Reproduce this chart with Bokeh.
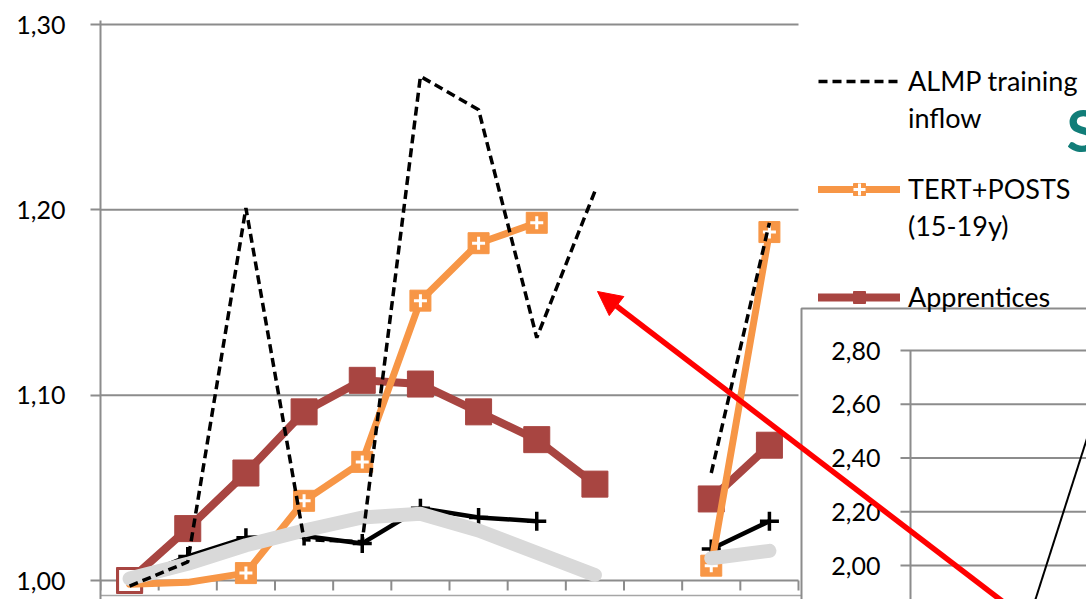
import math
from bokeh.plotting import figure
from bokeh.models import (Range1d, FixedTicker, CustomJSTickFormatter, Legend, LegendItem,
                          Arrow, NormalHead, Label)
from bokeh.embed import file_html
from bokeh.resources import INLINE
from bokeh.core.properties import value

nan = float("nan")

# ---------------- data ----------------
periods = list(range(1, 13))
almp_training_inflow = [0.997, 1.010, 1.201, 1.022, 1.021, 1.272, 1.254, 1.131, 1.210, nan, 1.058, 1.193]
tert_posts_15_19y = [0.998, 0.999, 1.004, 1.043, 1.064, 1.151, 1.182, 1.193, nan, nan, 1.008, 1.188]
apprentices = [1.000, 1.028, 1.058, 1.091, 1.108, 1.106, 1.091, 1.076, 1.052, nan, 1.044, 1.073]
black_series = [1.000, 1.013, 1.023, 1.024, 1.020, 1.039, 1.034, 1.032, nan, nan, 1.017, 1.032]
grey_series = [1.001, 1.009, 1.019, 1.027, 1.034, 1.036, 1.027, 1.015, 1.003, nan, 1.012, 1.016]
y_ticks = [1.00, 1.10, 1.20, 1.30]

inset_x = [2.2, 3.8]
inset_values = [1.70, 2.63]
inset_ticks = [2.00, 2.20, 2.40, 2.60, 2.80]

legend_rows = [("ALMP training", "almp"), ("inflow", None), (" ", None),
               ("TERT+POSTS", "tert"), ("(15-19y)", None), (" ", None),
               ("Apprentices", "appr")]

# ---------------- layout constants ----------------
W, H = 1086, 599
FRAME_L, FRAME_T = 100, 20
MAIN_RIGHT_PX = 798
Y_BASE_PX, Y_TOP_PX = 580, 24            # pixel rows of 1.00 and 1.30
PXU = (Y_BASE_PX - Y_TOP_PX) / (y_ticks[-1] - y_ticks[0])
CAT_W = (MAIN_RIGHT_PX - FRAME_L) / len(periods)

x_start = periods[0] - 0.5
x_end = x_start + (W - FRAME_L) / CAT_W
y_start = y_ticks[0] - (H - Y_BASE_PX) / PXU
y_end = y_ticks[-1] + (Y_TOP_PX - FRAME_T) / PXU

GRID = "#8C8C8C"
ORANGE = "#F79646"
BROWN = "#A84541"
LIGHT = "#D9D9D9"
FONT = "Lato"

p = figure(width=W, height=H, x_range=Range1d(x_start, x_end), y_range=Range1d(y_start, y_end),
           output_backend="svg", toolbar_location=None, x_axis_location=None,
           min_border_left=FRAME_L, min_border_right=0, min_border_top=FRAME_T, min_border_bottom=0)
p.outline_line_color = None
p.xgrid.visible = False
p.ygrid.visible = False
p.background_fill_color = "white"
p.border_fill_color = "white"

# pixel-like helper range for decorations
p.extra_x_ranges["px"] = Range1d(FRAME_L, W)
p.extra_y_ranges["px"] = Range1d(H, FRAME_T)

# inset ranges
IN_AXIS_PX = 910
IN_UX = 50.0
IN_2_PX, IN_28_PX = 565, 350
IN_PXU = (IN_2_PX - IN_28_PX) / (inset_ticks[-1] - inset_ticks[0])
p.extra_x_ranges["ix"] = Range1d((FRAME_L - IN_AXIS_PX) / IN_UX, (W - IN_AXIS_PX) / IN_UX)
p.extra_y_ranges["iy"] = Range1d(inset_ticks[0] - (H - IN_2_PX) / IN_PXU,
                                 inset_ticks[-1] + (IN_28_PX - FRAME_T) / IN_PXU)

# y axis
ax = p.yaxis[0]
ax.ticker = FixedTicker(ticks=y_ticks)
ax.formatter = CustomJSTickFormatter(code="return tick.toFixed(2).replace('.', ',')")
ax.axis_line_color = GRID
ax.axis_line_width = 2
ax.major_tick_line_color = GRID
ax.major_tick_line_width = 2
ax.major_tick_out = 10
ax.major_tick_in = 0
ax.minor_tick_line_color = None
ax.major_label_standoff = 25
ax.major_label_text_font = FONT
ax.major_label_text_font_size = "25px"
ax.major_label_text_color = "black"

# gridlines and category axis
left_edge = periods[0] - 0.5
right_edge = periods[-1] + 0.5
p.segment(x0=[left_edge] * (len(y_ticks) - 1), x1=[right_edge] * (len(y_ticks) - 1),
          y0=y_ticks[1:], y1=y_ticks[1:], line_color=GRID, line_width=2)
p.segment(x0=[left_edge], x1=[right_edge], y0=[y_ticks[0]], y1=[y_ticks[0]], line_color=GRID, line_width=2)
bounds = [k - 0.5 for k in periods] + [right_edge]
tick_len = 10 / PXU
p.segment(x0=bounds, x1=bounds, y0=[y_ticks[0]] * len(bounds), y1=[y_ticks[0] - tick_len] * len(bounds),
          line_color=GRID, line_width=2)
# slide edge line
p.segment(x0=[FRAME_L], x1=[801], y0=[595], y1=[595], line_color="#A6A6A6", line_width=1.5,
          x_range_name="px", y_range_name="px")

# ---------------- series ----------------
r_black = p.line(periods, black_series, line_color="black", line_width=4.5)
p.scatter(periods, black_series, marker="cross", size=19, line_color="black", line_width=3.5)

r_ap_line = p.line(periods, apprentices, line_color=BROWN, line_width=8, line_cap="round", line_join="round")
r_ap_sq = p.scatter(periods, apprentices, marker="square", size=26, fill_color=BROWN, line_color=BROWN)
p.scatter(periods[:1], apprentices[:1], marker="square", size=24, fill_color="white",
          line_color=BROWN, line_width=3)

tert_marks = [v if v >= y_ticks[0] else nan for v in tert_posts_15_19y]
r_or_line = p.line(periods, tert_posts_15_19y, line_color=ORANGE, line_width=7, line_cap="round",
                   line_join="round")
r_or_sq = p.scatter(periods, tert_marks, marker="square", size=21, fill_color=ORANGE, line_color=ORANGE)
r_or_x = p.scatter(periods, tert_marks, marker="cross", size=13, line_color="white", line_width=3)

p.line(periods, grey_series, line_color=LIGHT, line_width=14, line_cap="round", line_join="round")

r_almp = p.line(periods, almp_training_inflow, line_color="black", line_width=3.5, line_dash="9 5")

# ---------------- inset chart ----------------
p.quad(left=[801], right=[1200], top=[308], bottom=[700], fill_color="white",
       line_color="#8C8C8C", line_width=2, x_range_name="px", y_range_name="px")
n_it = len(inset_ticks)
p.segment(x0=[-10 / IN_UX] * n_it, x1=[10] * n_it, y0=inset_ticks, y1=inset_ticks,
          line_color=GRID, line_width=2, x_range_name="ix", y_range_name="iy")
p.segment(x0=[0], x1=[0], y0=[inset_ticks[-1]], y1=[inset_ticks[0] - 1], line_color=GRID,
          line_width=2, x_range_name="ix", y_range_name="iy")
p.text(x=[-30 / IN_UX] * n_it, y=inset_ticks,
       text=[f"{t:.2f}".replace(".", ",") for t in inset_ticks],
       text_align="right", text_baseline="middle", text_font=value(FONT), text_font_size="25px",
       text_color="black", x_range_name="ix", y_range_name="iy")
p.line(inset_x, inset_values, line_color="black", line_width=2, x_range_name="ix", y_range_name="iy")

# ---------------- legend ----------------
blank = p.line(x=[nan], y=[nan], line_alpha=0)
keyed = {"almp": [r_almp], "tert": [r_or_line, r_or_sq, r_or_x], "appr": [r_ap_line, r_ap_sq]}
items = [LegendItem(label=lab, renderers=keyed[k] if k else [blank]) for lab, k in legend_rows]
legend = Legend(items=items, location=(718, 286))
legend.label_text_font = FONT
legend.label_text_font_size = "27px"
legend.label_text_color = "black"
legend.glyph_width = 82
legend.glyph_height = 30
legend.label_height = 30
legend.label_standoff = 8
legend.spacing = 4
legend.padding = 0
legend.margin = 0
legend.border_line_color = None
legend.background_fill_alpha = 0
p.add_layout(legend)

# ---------------- decorations ----------------
p.add_layout(Label(x=1066, y=163, text="S", text_font=FONT, text_font_style="bold",
                   text_baseline="bottom", text_font_size="58px", text_color="#117D78",
                   x_range_name="px", y_range_name="px"))
p.add_layout(Arrow(end=NormalHead(size=24, fill_color="red", line_color="red"),
                   x_start=1010, y_start=607, x_end=597, y_end=291, line_color="red", line_width=5.5,
                   x_range_name="px", y_range_name="px"))

open("out.html", "w").write(file_html(p, INLINE))
